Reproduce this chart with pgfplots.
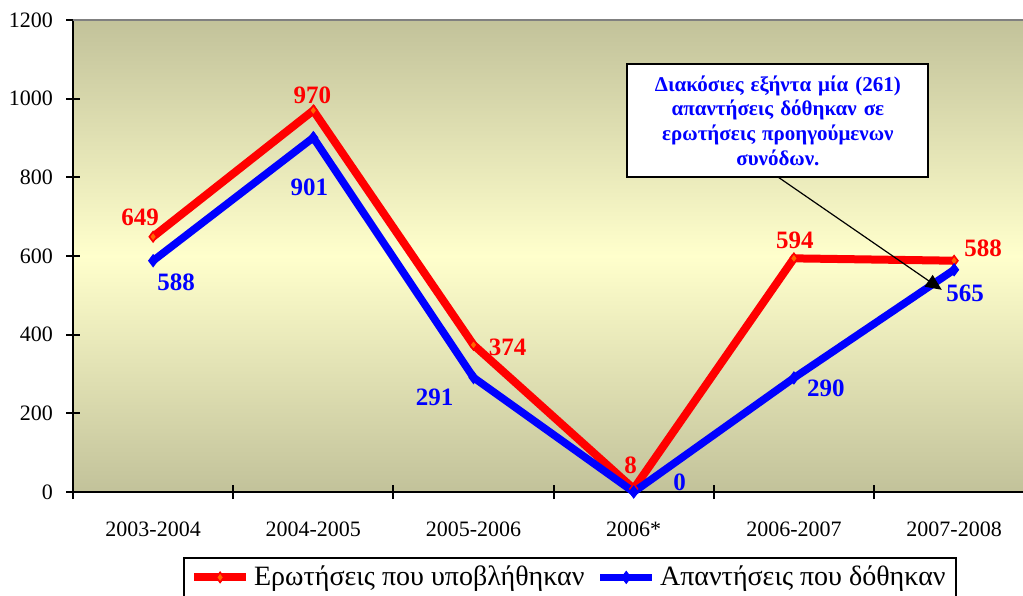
\documentclass[border=0pt]{standalone}
\usepackage{pgfplots}
\pgfplotsset{compat=1.18}
\usepackage{pgfplotstable}
\usepackage{fontspec}
\setmainfont{Liberation Serif}
\usetikzlibrary{arrows.meta}

\definecolor{bgolive}{RGB}{194,194,154}
\definecolor{bgpale}{RGB}{255,255,204}
\definecolor{mkorange}{RGB}{255,102,0}

% label offsets dx, dy in pt from the point
\pgfplotstableread{
x y dx dy
0 649 -6.5 9.5
1 970 -0.5 7.75
2 374 17 -1
3 8 -1.5 12
4 594 0.5 9
5 588 14.5 6.4
}\asked

\pgfplotstableread{
x y dx dy
0 588 11.5 -10.7
1 901 -2 -24.7
2 291 -19.5 -9.7
3 0 23 5
4 290 16 -5
5 565 5.5 -12
}\answered

\begin{document}
\begin{tikzpicture}
\path[use as bounding box] (-36.5pt,-51.5pt) rectangle (475pt,246pt);
\begin{axis}[
    scale only axis,
    width=475pt, height=236pt,
    at={(0,0)}, anchor=south west,
    clip=false,
    xmin=-0.5, xmax=5.43,
    ymin=0, ymax=1200,
    axis x line*=bottom, axis y line*=left,
    axis line style={line width=1pt, black, -},
    xtick={0,...,5},
    xticklabels={2003-2004,2004-2005,2005-2006,2006*,2006-2007,2007-2008},
    major x tick style={draw=none},
    minor xtick={-0.5,0.5,1.5,2.5,3.5,4.5},
    ytick={0,200,...,1200},
    tick align=center,
    major tick length=7pt, minor tick length=7pt,
    tick style={line width=1pt, black},
    /pgf/number format/assume math mode=true,
    /pgf/number format/1000 sep={},
    tick label style={font=\fontsize{11}{13}\selectfont},
    xticklabel style={yshift=-8pt},
    yticklabel style={xshift=-3pt},
    axis background/.style={top color=bgolive, bottom color=bgolive, middle color=bgpale},
    legend style={at={(0.523,0)}, anchor=north, yshift=-32.5pt,
        draw=black, line width=1pt, font=\fontsize{14}{16}\selectfont,
        /tikz/every even column/.append style={column sep=4pt}},
    legend columns=2,
    legend image code/.code={\draw[mark repeat=2,mark phase=2] plot coordinates {(0pt,0pt)(13pt,0pt)(26pt,0pt)};},
    nodes near coords,
    visualization depends on={\thisrow{dx}\as\dx},
    visualization depends on={\thisrow{dy}\as\dy},
  ]
  \addplot[red, line width=4pt, mark=diamond*, mark size=2.5pt,
    mark options={fill=mkorange, draw=red, line width=0.8pt},
    every node near coord/.append style={anchor=center, xshift=\dx pt, yshift=\dy pt,
      text=red, font=\bfseries\fontsize{12.5}{15}\selectfont}]
    table[x=x, y=y] {\asked};
  \addlegendentry{Ερωτήσεις που υποβλήθηκαν}
  \addplot[blue, line width=3.8pt, mark=diamond*, mark size=3pt,
    mark options={fill=blue, draw=blue, line width=0.5pt},
    every node near coord/.append style={anchor=center, xshift=\dx pt, yshift=\dy pt,
      text=blue, font=\bfseries\fontsize{12.5}{15}\selectfont}]
    table[x=x, y=y] {\answered};
  \addlegendentry{Απαντήσεις που δόθηκαν}

  \draw[gray, line width=1pt] (rel axis cs:0,1) -- (rel axis cs:1,1);
  \draw[black, line width=0.6pt, -{Triangle[length=8pt,width=7pt]}]
    (axis cs:3.9,801) -- (axis cs:4.923,514);
  \node[draw=black, line width=1pt, fill=white, align=center, text=blue,
    font=\bfseries\fontsize{10.5}{12.3}\selectfont,
    minimum width=150.5pt, minimum height=56.5pt, text width=146pt, inner sep=2pt]
    at (axis cs:3.9,944.5)
    {Διακόσιες εξήντα μία (261)\\ απαντήσεις δόθηκαν σε\\ ερωτήσεις προηγούμενων\\ συνόδων.};
\end{axis}
\end{tikzpicture}
\end{document}
